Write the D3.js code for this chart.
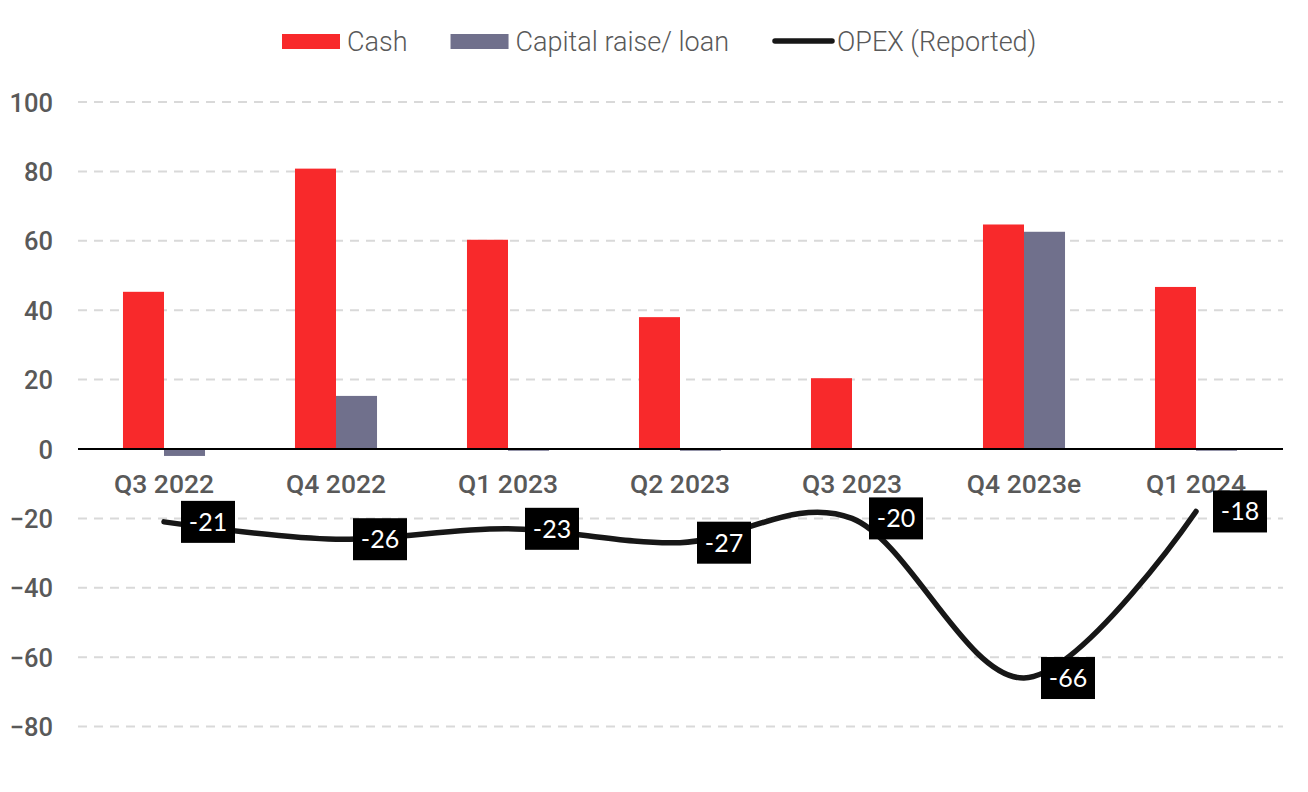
<!DOCTYPE html>
<html>
<head>
<meta charset="utf-8">
<script src="https://cdn.jsdelivr.net/npm/d3@7"></script>
<style>
  html, body { margin: 0; padding: 0; background: #ffffff; }
  svg { display: block; }
</style>
</head>
<body>
<svg id="chart" width="1308" height="792"></svg>
<script>
// ---- Data ----
const categories = ["Q3 2022", "Q4 2022", "Q1 2023", "Q2 2023", "Q3 2023", "Q4 2023e", "Q1 2024"];
const cashValues = [45.3, 80.8, 60.3, 38.0, 20.4, 64.7, 46.7];
const capitalValues = [-2.0, 15.3, -0.5, -0.5, 0, 62.6, -0.5];
const opexValues = [-21, -26, -23, -27, -20, -66, -18];
const yTicks = [100, 80, 60, 40, 20, 0, -20, -40, -60, -80];
const seriesNames = ["Cash", "Capital raise/ loan", "OPEX (Reported)"];

// ---- Styles ----
const RED = "#F8292B", SLATE = "#70708C", LINE = "#171717", TXT = "#595959";

const svg = d3.select("#chart");
const plotLeft = 78, plotRight = 1282;

const y = d3.scaleLinear().domain([-80, 100]).range([726.6, 102]);
const x0 = d3.scaleBand().domain(categories).range([plotLeft, plotRight])
  .paddingInner(0.523).paddingOuter(0.2615);
const x1 = d3.scaleBand().domain(["cash", "cap"]).range([0, x0.bandwidth()]);
const cx = d => x0(d) + x0.bandwidth() / 2;

// gridlines
const grid = svg.append("g");
grid.selectAll("line").data(yTicks.filter(t => t !== 0)).join("line")
  .attr("x1", plotLeft).attr("x2", plotRight + 1)
  .attr("y1", d => y(d)).attr("y2", d => y(d))
  .attr("stroke", "#d9d9d9").attr("stroke-width", 2)
  .attr("stroke-dasharray", "9,7");

// y axis labels
const yAxis = d3.axisLeft(y).tickValues(yTicks).tickSize(0).tickPadding(0);
const yg = svg.append("g").attr("transform", "translate(53,0)").call(yAxis);
yg.select(".domain").remove();
yg.selectAll("text")
  .attr("fill", TXT).attr("font-family", "Roboto").attr("font-size", 25.5)
  .attr("font-weight", 500).attr("dy", "0.36em");

// bars
const groups = svg.append("g").selectAll("g").data(categories).join("g")
  .attr("transform", d => `translate(${x0(d)},0)`);
groups.append("rect")
  .attr("x", x1("cash")).attr("width", x1.bandwidth())
  .attr("y", (d, i) => y(Math.max(0, cashValues[i])))
  .attr("height", (d, i) => Math.abs(y(cashValues[i]) - y(0)))
  .attr("fill", RED);
groups.append("rect")
  .attr("x", x1("cap")).attr("width", x1.bandwidth())
  .attr("y", (d, i) => y(Math.max(0, capitalValues[i])))
  .attr("height", (d, i) => Math.abs(y(capitalValues[i]) - y(0)))
  .attr("fill", SLATE);

// zero line
svg.append("line")
  .attr("x1", plotLeft).attr("x2", plotRight + 1)
  .attr("y1", y(0)).attr("y2", y(0))
  .attr("stroke", "#000").attr("stroke-width", 2.2);

// x axis labels
const xAxis = d3.axisBottom(x0).tickSize(0).tickPadding(0);
const xg = svg.append("g").attr("transform", `translate(0,${y(0)})`).call(xAxis);
xg.select(".domain").remove();
xg.selectAll("text")
  .attr("fill", TXT).attr("font-family", "Roboto").attr("font-size", 26.5)
  .attr("font-weight", 500).attr("dy", "0").attr("y", 44);

// OPEX line
const pts = categories.map((c, i) => [cx(c), y(opexValues[i])]);
const lineGen = d3.line().curve(d3.curveCardinal.tension(0));
svg.append("path").attr("d", lineGen(pts))
  .attr("fill", "none").attr("stroke", LINE).attr("stroke-width", 5.5)
  .attr("stroke-linecap", "round");

// data labels
const lbl = svg.append("g").selectAll("g").data(categories).join("g")
  .attr("transform", (d, i) => `translate(${cx(d) + 44},${y(opexValues[i])})`);
lbl.append("rect").attr("x", -27).attr("y", -21).attr("width", 54).attr("height", 42)
  .attr("fill", "#000");
lbl.append("text").text((d, i) => opexValues[i])
  .attr("text-anchor", "middle").attr("dy", "0.36em")
  .attr("fill", "#fff").attr("font-family", "Lato").attr("font-size", 25);

// legend
const leg = svg.append("g").attr("transform", "translate(282,41)");
let lx = 0;
seriesNames.forEach((name, i) => {
  if (i < 2) {
    leg.append("rect").attr("x", lx).attr("y", -7).attr("width", 58).attr("height", 15)
      .attr("fill", i === 0 ? RED : SLATE);
    lx += 65;
  } else {
    leg.append("line").attr("x1", lx + 3).attr("x2", lx + 60).attr("y1", 0).attr("y2", 0)
      .attr("stroke", LINE).attr("stroke-width", 5.5).attr("stroke-linecap", "round");
    lx += 65;
  }
  const t = leg.append("text").attr("x", lx).attr("y", 0).attr("dy", "0.36em")
    .text(name).attr("fill", TXT).attr("font-family", "Roboto")
    .attr("font-size", 27).attr("font-weight", 300);
  lx += t.node().getComputedTextLength() + 43;
});
</script>
</body>
</html>
